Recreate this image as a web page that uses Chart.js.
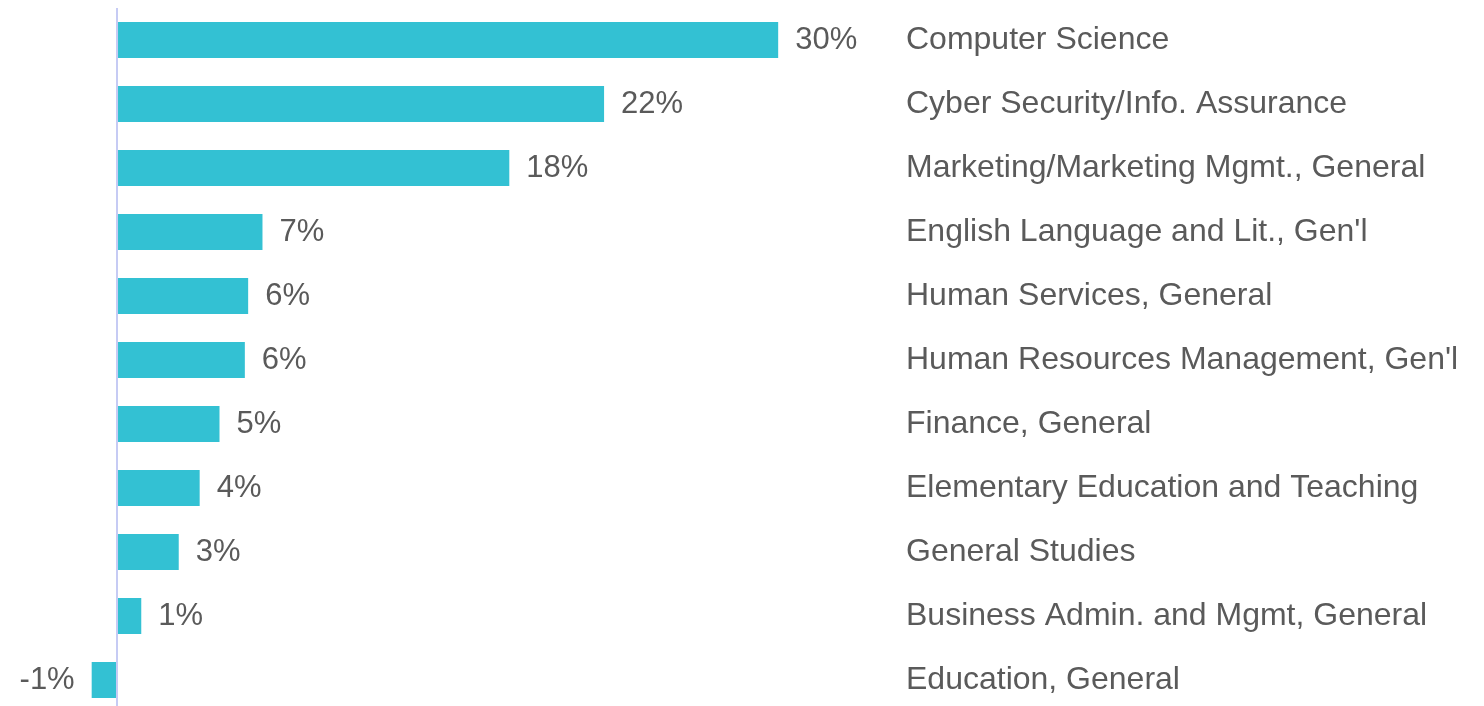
<!DOCTYPE html>
<html>
<head>
<meta charset="utf-8">
<script src="https://cdn.jsdelivr.net/npm/chart.js@4/dist/chart.umd.min.js"></script>
<style>
html,body{margin:0;padding:0;background:#fff;overflow:hidden;}
#wrap{position:relative;width:1484px;height:712px;}
</style>
</head>
<body>
<div id="wrap"><canvas id="c"></canvas></div>
<script>
const categories = [
  "Computer Science",
  "Cyber Security/Info. Assurance",
  "Marketing/Marketing Mgmt., General",
  "English Language and Lit., Gen'l",
  "Human Services, General",
  "Human Resources Management, Gen'l",
  "Finance, General",
  "Elementary Education and Teaching",
  "General Studies",
  "Business Admin. and Mgmt, General",
  "Education, General"
];
const values = [30, 22.1, 17.8, 6.6, 5.95, 5.8, 4.65, 3.75, 2.8, 1.1, -1.15];

const FONT = "'Liberation Sans', Arial, sans-serif";
const TEXT = '#5a5a5a';

const valueLabels = {
  id: 'valueLabels',
  afterDatasetsDraw(chart) {
    const ctx = chart.ctx;
    const meta = chart.getDatasetMeta(0);
    ctx.save();
    ctx.font = '31px ' + FONT;
    ctx.fillStyle = TEXT;
    ctx.textBaseline = 'middle';
    meta.data.forEach((bar, i) => {
      const v = values[i];
      const txt = Math.round(v) + '%';
      if (v >= 0) {
        ctx.textAlign = 'left';
        ctx.fillText(txt, bar.x + 17, bar.y);
      } else {
        ctx.textAlign = 'right';
        ctx.fillText(txt, bar.x - 17, bar.y);
      }
    });
    ctx.restore();
  }
};

new Chart(document.getElementById('c'), {
  type: 'bar',
  data: {
    labels: categories,
    datasets: [{
      data: values,
      backgroundColor: '#33c1d3',
      borderWidth: 0,
      barPercentage: 0.5625,
      categoryPercentage: 1
    }]
  },
  options: {
    indexAxis: 'y',
    responsive: true,
    maintainAspectRatio: false,
    animation: false,
    layout: { padding: { top: 8, left: 0, right: 0, bottom: 0 } },
    plugins: { legend: { display: false }, tooltip: { enabled: false } },
    scales: {
      x: {
        type: 'linear',
        min: -5.31,
        max: 35.8,
        display: true,
        ticks: { display: false },
        border: { display: false },
        grid: {
          drawTicks: false,
          lineWidth: 2,
          color: (c) => (c.tick && c.tick.value === 0) ? '#c6cbf4' : 'rgba(0,0,0,0)'
        },
        afterBuildTicks: (s) => { s.ticks = [{ value: 0 }]; },
        afterFit: (s) => { s.height = 0; s.paddingLeft = 0; s.paddingRight = 0; }
      },
      y: {
        position: 'right',
        border: { display: false },
        grid: { display: false, drawTicks: false },
        ticks: {
          color: TEXT,
          font: { family: FONT, size: 32 },
          padding: 0,
          crossAlign: 'near'
        },
        afterFit: (s) => { s.width = 578; s.paddingTop = 0; s.paddingBottom = 0; }
      }
    }
  },
  plugins: [valueLabels]
});
</script>
</body>
</html>
